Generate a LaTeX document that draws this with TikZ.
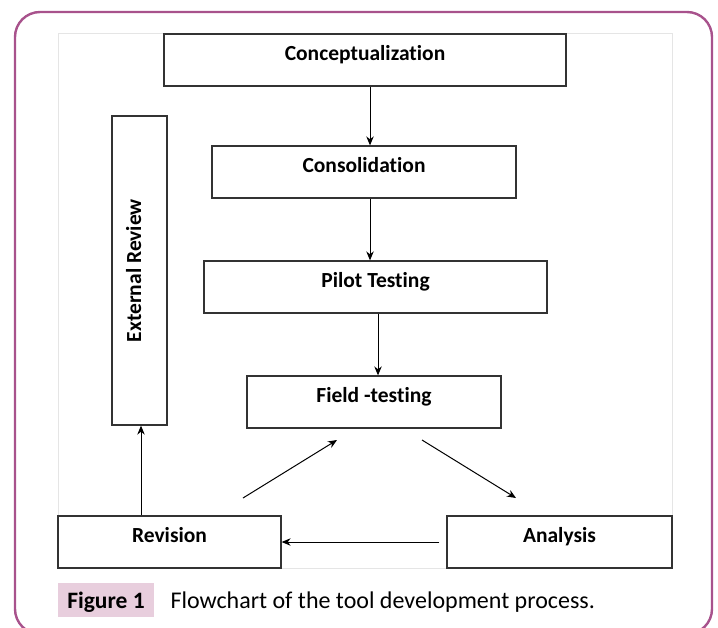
\documentclass[tikz,border=0pt]{standalone}
\usepackage{fontspec}
\setmainfont{Carlito}[Ligatures=NoCommon]
\usetikzlibrary{arrows.meta}
\definecolor{framecol}{RGB}{168,82,140}
\definecolor{capcol}{RGB}{232,206,221}

\begin{document}
\begin{tikzpicture}[x=1pt, y=-1pt, ->, >={Stealth[length=9pt,width=7.5pt]}, line width=1pt,
  main/.style={rectangle, draw=black!80, line width=1.3pt, inner xsep=0pt, inner ysep=0pt,
    text height=26pt, text depth=26pt, font=\fontsize{21.5}{24}\selectfont\bfseries},
  capbox/.style={fill=capcol, inner xsep=0pt, inner ysep=0pt, minimum width=96pt,
    text height=25pt, text depth=9pt, font=\fontsize{23.5}{26}\selectfont\bfseries}]

\useasboundingbox (0,0) rectangle (718,627);
\draw[-, framecol, line width=2.4pt, rounded corners=25pt] (15,12) rectangle (712,634);
\draw[-, black!10, line width=0.8pt] (58,33) rectangle (672,568);


\node[main, minimum width=402pt] at (365,60) (n0) {Conceptualization};
\node[main, minimum width=304pt] at (364,172) (n1) {Consolidation};
\node[main, minimum width=343pt] at (375.5,287) (n2) {Pilot Testing};
\node[main, minimum width=254pt] at (374,402) (n3) {Field -testing};
\node[main, minimum width=223pt] at (169.5,542) (n4) {Revision};
\node[main, minimum width=225pt] at (559.5,542) (n5) {Analysis};
\node[main, minimum width=309pt, text height=29pt, rotate=90] at (139.5,270.5) (r0) {External Review};

\path ([xshift=5pt]n0.south) edge ([xshift=5pt]n0.south |- n1.north);
\path ([xshift=6pt]n1.south) edge ([xshift=6pt]n1.south |- n2.north);
\path ([xshift=2.5pt]n2.south) edge ([xshift=2.5pt]n2.south |- n3.north);

\coordinate (a0) at (243,498);
\coordinate (a1) at (337,440);
\coordinate (a2) at (422,440);
\coordinate (a3) at (516,498);
\path (a0) edge (a1);
\path (a2) edge (a3);
\path[shorten <=7pt] (n5) edge (n4);
\path ([xshift=-28.5pt]n4.north) edge ([xshift=-28.5pt]n4.north |- r0.west);

\node[capbox] at (106,600) (f0) {Figure 1};
\node[anchor=base west, inner sep=0pt, font=\fontsize{24}{27}\selectfont] at (170,608) (f1) {Flowchart of the tool development process.};

\end{tikzpicture}
\end{document}
